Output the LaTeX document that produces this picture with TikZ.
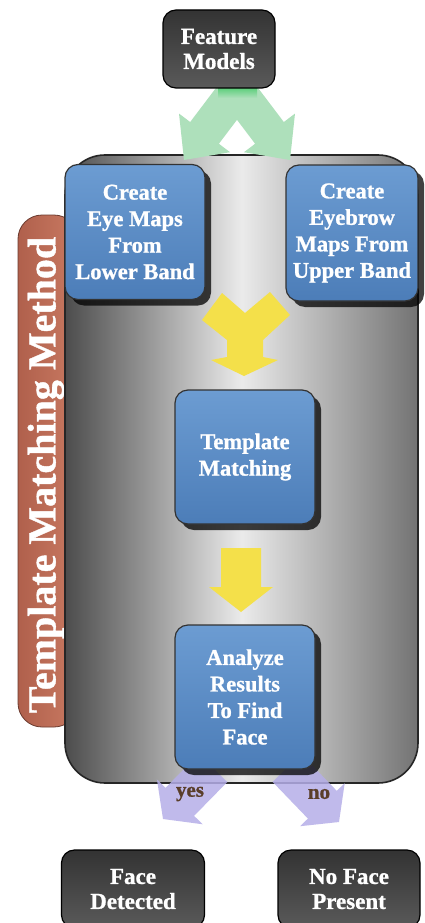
\documentclass[tikz,border=0pt]{standalone}
\usepackage{fontspec}
\setmainfont{Liberation Serif}[BoldFeatures={FakeBold=1}]
\usetikzlibrary{shadows,calc,arrows.meta}
\definecolor{boxblue}{HTML}{6C9CD2}
\definecolor{boxblueD}{HTML}{4C7DB8}
\definecolor{darkbox}{HTML}{333333}
\definecolor{darkboxL}{HTML}{5A5A5A}
\definecolor{panelO}{HTML}{C97A62}
\definecolor{panelOD}{HTML}{B0604C}
\definecolor{arrGreen}{HTML}{AEE0BB}
\definecolor{arrGreenB}{HTML}{4CCB6E}
\definecolor{arrYellow}{HTML}{F4E04A}
\definecolor{arrPurple}{HTML}{B5AEE8}
\definecolor{lblBrown}{HTML}{5A3E2A}
\newcommand\blockarrow[6]{%
  \coordinate (tmpC) at ($(#3)!#6!(#2)$);
  \fill[#1] ($(#2)!#4!90:(#3)$) -- ($(tmpC)!#4!90:(#3)$) -- ($(tmpC)!#5!90:(#3)$)
    -- (#3) -- ($(tmpC)!#5!-90:(#3)$) -- ($(tmpC)!#4!-90:(#3)$) -- ($(#2)!#4!-90:(#3)$) -- cycle;}
\tikzset{
  bluebox/.style={draw=black!80, line width=1.2pt, rounded corners=13pt,
    top color=boxblue, bottom color=boxblueD, text=white,
    font=\bfseries\fontsize{22.5}{26.5}\selectfont, align=center, inner sep=0pt,
    drop shadow={shadow xshift=6pt, shadow yshift=-6pt, fill=black, opacity=0.75}},
  darkbox/.style={draw=black, line width=1.2pt, rounded corners=13pt,
    top color=darkbox, bottom color=darkboxL, text=white,
    font=\bfseries\fontsize{23}{25}\selectfont, align=center, inner sep=0pt},
  lbl/.style={text=lblBrown, font=\bfseries\fontsize{21}{22}\selectfont, inner sep=0pt}
}
\begin{document}
\begin{tikzpicture}[x=1pt,y=-1pt]
\useasboundingbox[fill=white] (0,0) rectangle (424,923);
% side panel
\node[draw=panelOD!60!black, line width=0.8pt, rounded corners=24pt,
  left color=panelOD, right color=panelO, minimum width=60pt, minimum height=512pt,
  inner sep=0pt] (panel) at (48,471) {};
\node[rotate=90, text=white, font=\bfseries\fontsize{40}{42}\selectfont] (ptitle) at (46,475) {Template Matching Method};
% container
\node[draw=black!85, line width=1.6pt, rounded corners=40pt, minimum width=353pt, minimum height=628pt,
  left color=black!70, right color=black!55, middle color=black!8, inner sep=0pt] (cont) at (241.5,469) {};
% green arrows (behind the Feature Models box)
\coordinate (g0) at (237,90);
\coordinate (g1) at (184,160);
\coordinate (g2) at (290,160);
\blockarrow{arrGreen}{g0}{g1}{18pt}{32pt}{34pt}
\blockarrow{arrGreen}{g0}{g2}{18pt}{32pt}{34pt}
\shade[top color=arrGreenB, bottom color=arrGreen] (218,86) rectangle (257,98);
\node[darkbox, minimum width=112pt, minimum height=78pt] (fm) at (219,49) {Feature\\Models};
% purple arrows
\coordinate (p0a) at (213,768);
\coordinate (p1) at (163,819);
\coordinate (p0b) at (287,768);
\coordinate (p2) at (339,822);
\blockarrow{arrPurple, opacity=0.85}{p0a}{p1}{20pt}{32pt}{24pt}
\blockarrow{arrPurple, opacity=0.85}{p0b}{p2}{20pt}{31pt}{24pt}
\node[lbl] (yes) at (190,794) {yes};
\node[lbl] (no) at (319,794) {no};
% blue boxes
\node[bluebox, minimum width=140pt, minimum height=135pt] (b1) at (135,232) {Create\\Eye Maps\\From\\Lower Band};
\node[bluebox, minimum width=132pt, minimum height=136pt] (b2) at (352,233) {Create\\Eyebrow\\Maps From\\Upper Band};
\node[bluebox, minimum width=140pt, minimum height=134pt] (b3) at (245,457) {Template\\Matching};
\node[bluebox, minimum width=140pt, minimum height=144pt] (b4) at (245,697) {Analyze\\Results\\To Find\\Face};
% yellow Y arrow (joins b1 and b2 into b3)
\coordinate (ymid) at (245,313);
\fill[arrYellow] (222,293) -- (ymid) -- (270,292) -- (290,315) -- (263,340) -- (263,357)
  -- (278,360) -- (244,376) -- (211,360) -- (227,357) -- (227,340) -- (202,320) -- cycle;
% yellow down arrow
\coordinate (d1) at (241,548);
\coordinate (d2) at (241,612);
\blockarrow{arrYellow}{d1}{d2}{20pt}{32pt}{25pt}
% bottom boxes
\node[darkbox, minimum width=143pt, minimum height=78pt] (fd) at (133,889) {Face\\Detected};
\node[darkbox, minimum width=142pt, minimum height=78pt] (nf) at (349,889) {No Face\\Present};
\end{tikzpicture}
\end{document}
